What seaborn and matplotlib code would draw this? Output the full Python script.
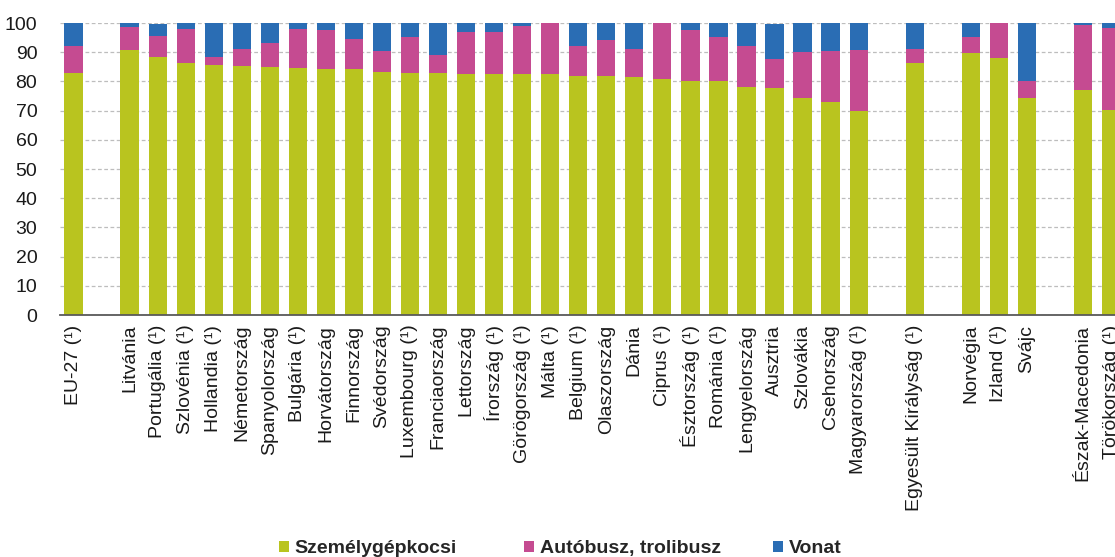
import numpy as np
import pandas as pd
import matplotlib
matplotlib.use("Agg")
import matplotlib.pyplot as plt
from matplotlib.patches import Patch
import seaborn as sns

# Country groups (empty strings of different length act as spacer slots)
countries = [
    "EU-27 (¹)", " ",
    "Litvánia", "Portugália (¹)", "Szlovénia (¹)", "Hollandia (¹)", "Németország",
    "Spanyolország", "Bulgária (¹)", "Horvátország", "Finnország", "Svédország",
    "Luxembourg (¹)", "Franciaország", "Lettország", "Írország (¹)", "Görögország (¹)",
    "Málta (¹)", "Belgium (¹)", "Olaszország", "Dánia", "Ciprus (¹)", "Észtország (¹)",
    "Románia (¹)", "Lengyelország", "Ausztria", "Szlovákia", "Csehország",
    "Magyarország (¹)", "  ",
    "Egyesült Királyság (¹)", "   ",
    "Norvégia", "Izland (¹)", "Svájc", "    ",
    "Észak-Macedonia", "Törökország (¹)",
]

# Modal split of passenger transport (%), spacer slots have no value
car = [82.9, np.nan,
       90.9, 88.3, 86.2, 85.7, 85.4, 84.9, 84.5, 84.1, 84.1, 83.3,
       82.9, 82.9, 82.4, 82.4, 82.4, 82.4, 81.9, 81.9, 81.5, 80.7,
       80.2, 80.2, 78.2, 77.7, 74.4, 73.1, 69.8, np.nan,
       86.3, np.nan,
       89.6, 87.9, 74.4, np.nan,
       77.0, 70.3]
bus = [9.2, np.nan,
       7.8, 7.1, 11.9, 2.6, 5.8, 8.1, 13.6, 13.5, 10.5, 7.1,
       12.2, 6.2, 14.4, 14.4, 16.5, 17.6, 10.2, 12.4, 9.7, 19.3,
       17.4, 14.9, 13.9, 10.1, 15.5, 17.3, 21.1, np.nan,
       4.9, np.nan,
       5.5, 12.1, 5.9, np.nan,
       22.2, 28.1]
train = [7.9, np.nan,
         1.3, 4.3, 1.9, 11.7, 8.8, 7.0, 1.9, 2.4, 5.4, 9.6,
         4.9, 10.9, 3.2, 3.2, 1.1, 0.0, 7.9, 5.7, 8.8, 0.0,
         2.4, 4.9, 7.9, 11.9, 10.1, 9.6, 9.1, np.nan,
         8.8, np.nan,
         4.9, 0.0, 19.7, np.nan,
         0.8, 1.6]

series_names = ["Személygépkocsi", "Autóbusz, trolibusz", "Vonat"]
colors = ["#B9C41F", "#C54B91", "#2A6DB4"]

df = pd.DataFrame({"country": countries, "car": car, "bus": bus, "train": train})
df["lvl_car"] = df["car"]
df["lvl_bus"] = df["car"] + df["bus"]
df["lvl_train"] = df["car"] + df["bus"] + df["train"]
data = df.dropna()

sns.set_style("white")
plt.rcParams["font.family"] = ["Liberation Sans", "DejaVu Sans"]

fig = plt.figure(figsize=(11.15, 5.57), dpi=100)
slot = 28.04
ax = fig.add_axes([59.5 / 1115, 242 / 557, 38 * slot / 1115, 292 / 557])

# stacked bars drawn as cumulative levels, tallest first
for col, c in zip(["lvl_train", "lvl_bus", "lvl_car"], colors[::-1]):
    sns.barplot(data=data, x="country", y=col, order=countries, color=c,
                saturation=1, width=0.65, linewidth=0, errorbar=None, ax=ax)

ax.set_xlim(-0.5, len(countries) - 0.5)
ax.set_ylim(0, 100)
ax.set_yticks(np.arange(0, 101, 10))
ax.yaxis.grid(True, linestyle=(0, (3, 2)), color="#BDBDBD", linewidth=0.9)
ax.set_axisbelow(True)
ax.set_xlabel("")
ax.set_ylabel("")

for s in ["top", "right", "left"]:
    ax.spines[s].set_visible(False)
ax.spines["bottom"].set_color("#595959")
ax.spines["bottom"].set_linewidth(1.3)

ax.set_xticks(range(len(countries)))
ax.set_xticklabels(countries, rotation=90, fontsize=14, color="#1a1a1a")
ax.set_xticks(np.arange(-0.5, len(countries)), minor=True)
ax.tick_params(axis="x", which="major", length=0, pad=7)
ax.tick_params(axis="x", which="minor", length=6, width=1.1, color="#595959",
               direction="out")
ax.tick_params(axis="y", length=0, labelsize=14, pad=16, labelcolor="#1a1a1a")

# legend entries placed one by one along the bottom
legend_x = [279, 524, 773]
for name, c, x in zip(series_names, colors, legend_x):
    fig.legend([Patch(facecolor=c, edgecolor="none")], [name],
               loc="center left", bbox_to_anchor=(x / 1115, 0.015),
               frameon=False, borderpad=0, borderaxespad=0,
               handlelength=0.5, handleheight=0.5, handletextpad=0.3,
               prop={"size": 14, "weight": "bold"})

fig.savefig("out.png", dpi=100)
